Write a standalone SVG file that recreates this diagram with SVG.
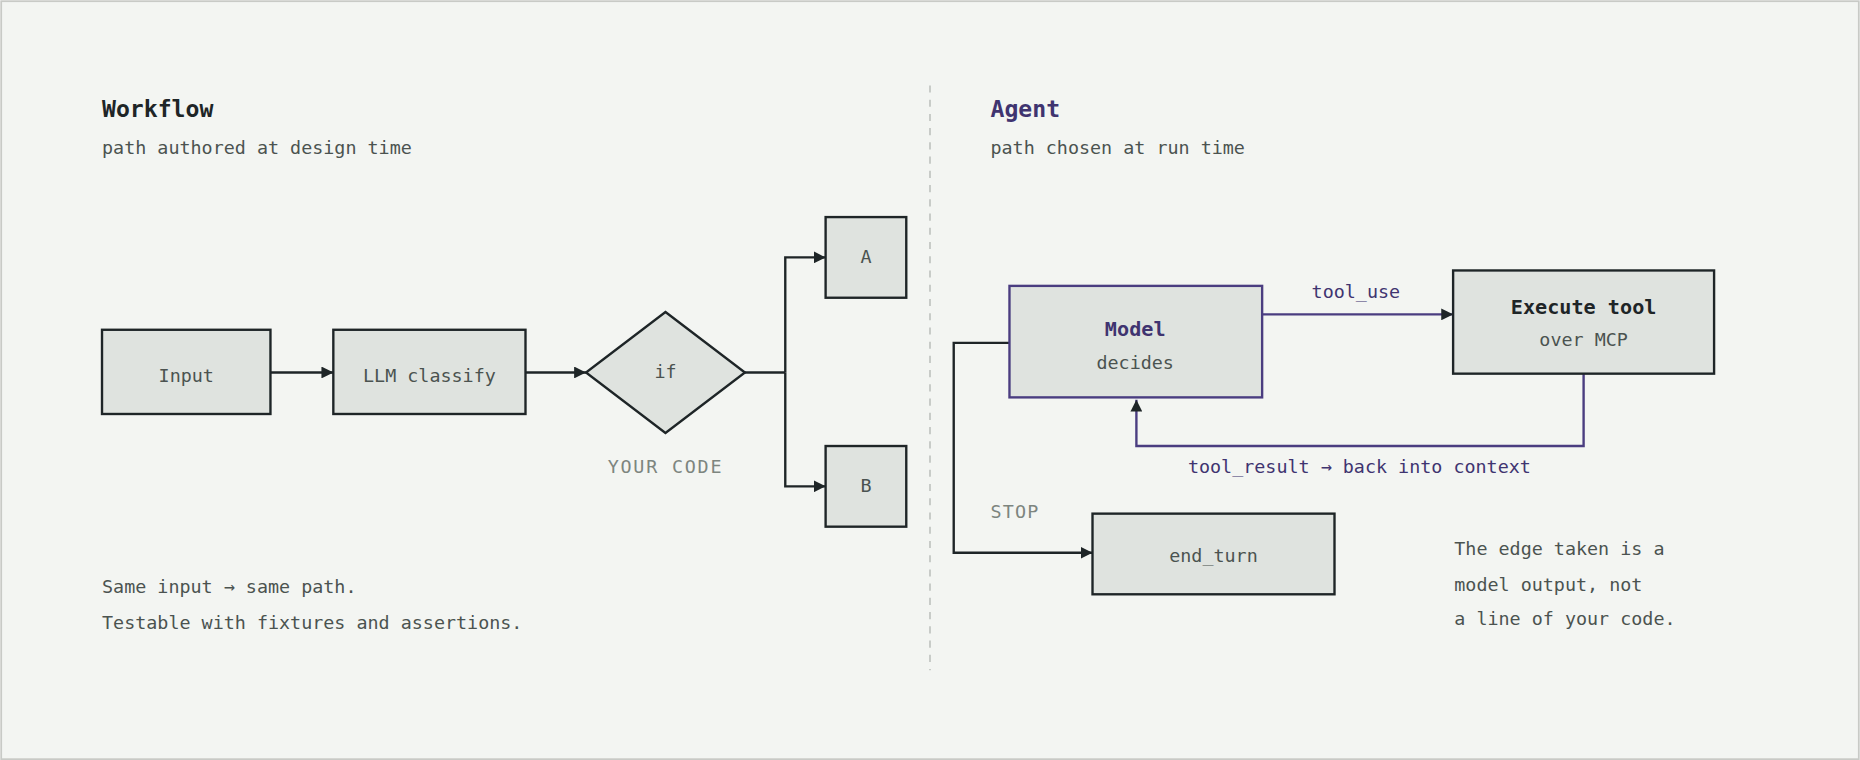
<svg xmlns="http://www.w3.org/2000/svg" width="1860" height="760" viewBox="0 0 1860 760">
<defs>
<marker id="ah" viewBox="0 0 10 10" refX="10" refY="5" markerWidth="10" markerHeight="10" markerUnits="userSpaceOnUse" orient="auto"><path d="M0,0L10,5L0,10z" fill="#1e2527"/></marker>
<marker id="ahp" viewBox="0 0 10 10" refX="10" refY="5" markerWidth="10" markerHeight="10" markerUnits="userSpaceOnUse" orient="auto"><path d="M0,0L10,5L0,10z" fill="#1e2527"/></marker>
<style>
text{font-family:"DejaVu Sans Mono","Liberation Mono",monospace;}
.box{fill:#dfe3df;stroke:#1e2527;stroke-width:2;}
.pbox{fill:#dfe3df;stroke:#4a3d80;stroke-width:2;}
.lbl{font-size:15.5px;fill:#4b5350;text-anchor:middle;}
.t{font-size:15.5px;fill:#4b5350;}
.ln{fill:none;stroke:#1e2527;stroke-width:2;}
.pl{fill:none;stroke:#4a3d80;stroke-width:2;}
</style>
</defs>
<g transform="scale(1.18622)">
<rect x="1" y="1" width="1566" height="639" fill="#f3f5f2" stroke="#c8cac6" stroke-width="1.5"/>
<line x1="784" y1="72" x2="784" y2="565" stroke="#c3c7c3" stroke-width="1.5" stroke-dasharray="6,6"/>
<g id="headers">
<text x="86" y="99" font-size="19.5" font-weight="bold" fill="#1e2527">Workflow</text>
<text class="t" x="86" y="130">path authored at design time</text>
<text x="835" y="99" font-size="19.5" font-weight="bold" fill="#3f3470">Agent</text>
<text class="t" x="835" y="130">path chosen at run time</text>
</g>
<g id="connectors">
<line class="ln" x1="228" y1="314" x2="281" y2="314" marker-end="url(#ah)"/>
<line class="ln" x1="443" y1="314" x2="494" y2="314" marker-end="url(#ah)"/>
<path class="ln" d="M628,314H662"/>
<path class="ln" d="M662,314V217H696" marker-end="url(#ah)"/>
<path class="ln" d="M662,314V410H696" marker-end="url(#ah)"/>
<line class="pl" x1="1064" y1="265" x2="1225" y2="265" marker-end="url(#ahp)"/>
<path class="pl" d="M1335,315V376H958V337" marker-end="url(#ahp)"/>
<path class="ln" d="M851,289H804V466H921" marker-end="url(#ah)"/>
<text x="1143" y="251" font-size="15.5" fill="#3f3470" text-anchor="middle">tool_use</text>
<text x="1146" y="399" font-size="15.5" fill="#3f3470" text-anchor="middle">tool_result → back into context</text>
<text x="835" y="437" font-size="15.5" fill="#7d857f" letter-spacing="1">STOP</text>
</g>
<g id="input"><rect class="box" x="86" y="278" width="142" height="71"/><text class="lbl" x="157" y="322">Input</text></g>
<g id="llm"><rect class="box" x="281" y="278" width="162" height="71"/><text class="lbl" x="362" y="322">LLM classify</text></g>
<g id="if"><path class="box" d="M561,263L628,314L561,365L494,314z"/><text class="lbl" x="561" y="319">if</text>
<text x="561" y="399" font-size="15.5" fill="#7d857f" text-anchor="middle" letter-spacing="1.5">YOUR CODE</text></g>
<g id="a"><rect class="box" x="696" y="183" width="68" height="68"/><text class="lbl" x="730" y="222">A</text></g>
<g id="b"><rect class="box" x="696" y="376" width="68" height="68"/><text class="lbl" x="730" y="415">B</text></g>
<g id="model"><rect class="pbox" x="851" y="241" width="213" height="94"/>
<text x="957" y="283" font-size="17" font-weight="bold" fill="#3f3470" text-anchor="middle">Model</text>
<text class="lbl" x="957" y="311">decides</text></g>
<g id="exec"><rect class="box" x="1225" y="228" width="220" height="87"/>
<text x="1335" y="265" font-size="17" font-weight="bold" fill="#1e2527" text-anchor="middle">Execute tool</text>
<text class="lbl" x="1335" y="292">over MCP</text></g>
<g id="endturn"><rect class="box" x="921" y="433" width="204" height="68"/><text class="lbl" x="1023" y="474">end_turn</text></g>
<g id="notes">
<text class="t" x="86" y="500">Same input → same path.</text>
<text class="t" x="86" y="530">Testable with fixtures and assertions.</text>
<text class="t" x="1226" y="468">The edge taken is a</text>
<text class="t" x="1226" y="498">model output, not</text>
<text class="t" x="1226" y="527">a line of your code.</text>
</g>
</g>
</svg>
